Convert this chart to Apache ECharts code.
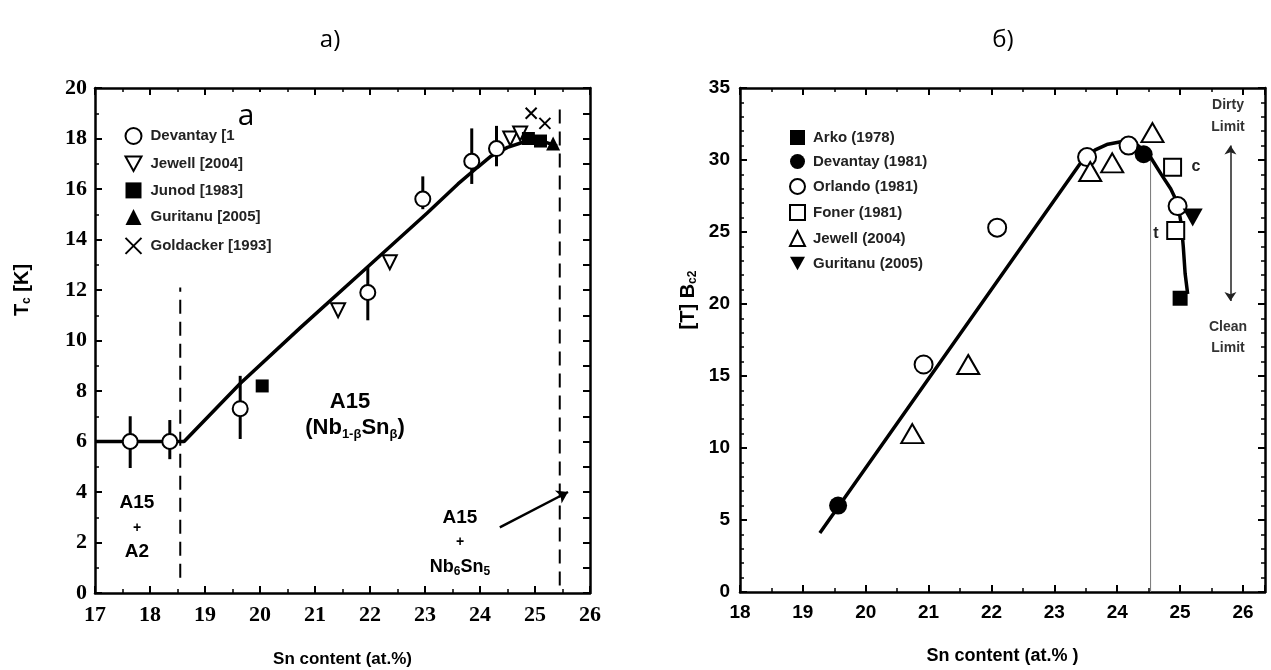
<!DOCTYPE html>
<html><head><meta charset="utf-8">
<script src="https://cdn.jsdelivr.net/npm/echarts@6/dist/echarts.min.js"></script>
<style>html,body{margin:0;padding:0;background:#fff}#c{width:1271px;height:670px}</style>
</head><body><div id="c"></div>
<script>
// ---------- Panel а) : Tc vs Sn content ----------
const a_devantay_x  = [17.64, 18.36, 19.64, 21.96, 22.96, 23.85, 24.30];
const a_devantay_y  = [6.0, 6.0, 7.3, 11.9, 15.6, 17.1, 17.6];
const a_devantay_lo = [4.95, 5.3, 6.1, 10.8, 15.2, 16.2, 16.9];
const a_devantay_hi = [7.0, 6.85, 8.6, 12.9, 16.5, 18.4, 18.5];
const a_jewell_x = [21.42, 22.36, 24.55, 24.73];
const a_jewell_y = [11.2, 13.1, 18.0, 18.2];
const a_junod_x = [20.04, 24.88, 25.10];
const a_junod_y = [8.2, 18.0, 17.9];
const a_guritanu_x = [25.33];
const a_guritanu_y = [17.8];
const a_goldacker_x = [24.93, 25.18];
const a_goldacker_y = [19.0, 18.6];
const a_fit_x = [17.0, 18.62, 19.64, 20.73, 21.9, 23.04, 23.6, 23.95, 24.2, 24.5, 24.78, 25.0, 25.2, 25.4];
const a_fit_y = [6.0, 6.0, 8.3, 10.5, 12.8, 15.05, 16.2, 16.85, 17.3, 17.65, 17.85, 17.9, 17.85, 17.7];
const a_dash1 = [[18.55, 0.6], [18.55, 12.1]];
const a_dash2 = [[25.45, 0.3], [25.45, 19.2]];
const a_arrow = [[24.36, 2.6], [25.6, 4.0]];

// ---------- Panel б) : Bc2 vs Sn content ----------
const b_arko_x = [25.0];
const b_arko_y = [20.4];
const b_devantay_x = [19.56, 24.42];
const b_devantay_y = [6.0, 30.4];
const b_orlando_x = [20.92, 22.09, 23.52, 24.18, 24.96];
const b_orlando_y = [15.8, 25.3, 30.2, 31.0, 26.8];
const b_foner_x = [24.88, 24.93];
const b_foner_y = [29.5, 25.1];
const b_jewell_x = [20.74, 21.63, 23.57, 23.92, 24.56];
const b_jewell_y = [11.0, 15.8, 29.2, 29.8, 31.9];
const b_guritanu_x = [25.2];
const b_guritanu_y = [26.0];
const b_fit_x = [19.27, 23.45, 23.65, 23.85, 24.1, 24.3, 24.5, 24.7, 24.85, 24.96, 25.02, 25.05, 25.08, 25.12];
const b_fit_y = [4.1, 30.0, 30.7, 31.1, 31.3, 31.1, 30.4, 29.0, 28.0, 27.0, 25.5, 24.0, 22.1, 20.7];
const b_vline = [[24.53, 0], [24.53, 30.2]];
const b_darrow = [[25.8, 31.0], [25.8, 20.2]];

const zip = (xs, ys) => xs.map((x, i) => [x, ys[i]]);
const SANS = 'Liberation Sans';
const SERIF = 'Liberation Serif';
const DOWN = 'path://M0,0L10,0L5,9Z';
const XSYM = 'path://M0,0L10,10M10,0L0,10';

function axisBase(extra) {
  return Object.assign({
    axisLine: {show: true, onZero: false, lineStyle: {color: '#000', width: 2.5}},
    axisTick: {show: true, inside: true, length: 7, lineStyle: {color: '#000', width: 2}},
    minorTick: {show: true, splitNumber: 2, length: 4, lineStyle: {color: '#000', width: 1.5}},
    splitLine: {show: false},
    minorSplitLine: {show: false}
  }, extra);
}

const chart = echarts.init(document.getElementById('c'));
const open = {color: '#fff', borderColor: '#000', borderWidth: 2, opacity: 1};
const filled = {color: '#000', borderColor: '#000', borderWidth: 0, opacity: 1};

const option = {
  animation: false,
  backgroundColor: '#fff',
  grid: [
    {left: 95, top: 88, width: 495, height: 505, outerBoundsMode: 'none', containLabel: false},
    {left: 740, top: 88, width: 525, height: 504, outerBoundsMode: 'none', containLabel: false}
  ],
  xAxis: [
    axisBase({gridIndex: 0, type: 'value', min: 17, max: 26, interval: 1, position: 'bottom',
      axisLabel: {color: '#000', fontFamily: SERIF, fontWeight: 'bold', fontSize: 22, margin: 11},
      name: 'Sn content (at.%)', nameLocation: 'middle', nameGap: 58,
      nameTextStyle: {color: '#000', fontFamily: SANS, fontWeight: 'bold', fontSize: 17}}),
    axisBase({gridIndex: 0, type: 'value', min: 17, max: 26, interval: 1, position: 'top',
      axisLabel: {show: false}}),
    axisBase({gridIndex: 1, type: 'value', min: 18, max: 26.35, interval: 1, position: 'bottom',
      axisLabel: {color: '#000', fontFamily: SANS, fontWeight: 'bold', fontSize: 19, margin: 11, showMaxLabel: false},
      name: 'Sn content (at.% )', nameLocation: 'middle', nameGap: 55,
      nameTextStyle: {color: '#000', fontFamily: SANS, fontWeight: 'bold', fontSize: 18}}),
    axisBase({gridIndex: 1, type: 'value', min: 18, max: 26.35, interval: 1, position: 'top',
      axisLabel: {show: false}})
  ],
  yAxis: [
    axisBase({gridIndex: 0, type: 'value', min: 0, max: 20, interval: 2, position: 'left',
      axisLabel: {color: '#000', fontFamily: SERIF, fontWeight: 'bold', fontSize: 22, margin: 8}}),
    axisBase({gridIndex: 0, type: 'value', min: 0, max: 20, interval: 1, position: 'right',
      axisLabel: {show: false}, minorTick: {show: false}}),
    axisBase({gridIndex: 1, type: 'value', min: 0, max: 35, interval: 5, position: 'left',
      axisLabel: {color: '#000', fontFamily: SANS, fontWeight: 'bold', fontSize: 19, margin: 10},
      minorTick: {show: true, splitNumber: 5, length: 4, lineStyle: {color: '#000', width: 1.5}}}),
    axisBase({gridIndex: 1, type: 'value', min: 0, max: 35, interval: 5, position: 'right',
      axisLabel: {show: false},
      minorTick: {show: true, splitNumber: 5, length: 4, lineStyle: {color: '#000', width: 1.5}}})
  ],
  legend: [
    {orient: 'vertical', left: 118, top: 122, itemWidth: 16, itemHeight: 16, itemGap: 10.5,
      textStyle: {color: '#222', fontFamily: SANS, fontWeight: 'bold', fontSize: 15, padding: [0, 0, 0, 4]},
      data: ['Devantay [1981]', 'Jewell [2004]', 'Junod [1983]', 'Guritanu [2005]', 'Goldacker [1993]']},
    {orient: 'vertical', left: 784, top: 125, itemWidth: 15, itemHeight: 15, itemGap: 9,
      textStyle: {color: '#222', fontFamily: SANS, fontWeight: 'bold', fontSize: 15, padding: [0, 0, 0, 3]},
      data: ['Arko (1978)', 'Devantay (1981)', 'Orlando (1981)', 'Foner (1981)', 'Jewell (2004)', 'Guritanu (2005)']}
  ],
  series: [
    // ----- panel а)
    {type: 'line', xAxisIndex: 0, yAxisIndex: 0, data: zip(a_fit_x, a_fit_y), smooth: false, showSymbol: false,
      lineStyle: {color: '#000', width: 3.5}, z: 2, silent: true},
    {type: 'line', xAxisIndex: 0, yAxisIndex: 0, data: a_dash1, showSymbol: false,
      lineStyle: {color: '#000', width: 2, type: [14, 8]}, z: 1, silent: true},
    {type: 'line', xAxisIndex: 0, yAxisIndex: 0, data: a_dash2, showSymbol: false,
      lineStyle: {color: '#000', width: 2, type: [14, 8]}, z: 1, silent: true,
      markLine: {silent: true, symbol: ['none', 'arrow'], symbolSize: 11, label: {show: false},
        lineStyle: {color: '#000', width: 2.5, type: 'solid'},
        data: [[{coord: a_arrow[0]}, {coord: a_arrow[1]}]]}},
    {type: 'custom', xAxisIndex: 0, yAxisIndex: 0, z: 3, silent: true,
      data: a_devantay_x.map((x, i) => [x, a_devantay_lo[i], a_devantay_hi[i]]),
      renderItem: (p, api) => {
        const a = api.coord([api.value(0), api.value(1)]);
        const b = api.coord([api.value(0), api.value(2)]);
        return {type: 'line', shape: {x1: a[0], y1: a[1], x2: b[0], y2: b[1]}, style: {stroke: '#000', lineWidth: 3}};
      }},
    {name: 'Devantay [1981]', type: 'scatter', xAxisIndex: 0, yAxisIndex: 0, symbol: 'circle', symbolSize: 15,
      itemStyle: open, data: zip(a_devantay_x, a_devantay_y), z: 4},
    {name: 'Jewell [2004]', type: 'scatter', xAxisIndex: 0, yAxisIndex: 0, symbol: DOWN, symbolSize: [14, 14],
      itemStyle: open, data: zip(a_jewell_x, a_jewell_y), z: 4},
    {name: 'Junod [1983]', type: 'scatter', xAxisIndex: 0, yAxisIndex: 0, symbol: 'rect', symbolSize: 13,
      itemStyle: filled, data: zip(a_junod_x, a_junod_y), z: 4},
    {name: 'Guritanu [2005]', type: 'scatter', xAxisIndex: 0, yAxisIndex: 0, symbol: 'triangle', symbolSize: 14,
      itemStyle: filled, data: zip(a_guritanu_x, a_guritanu_y), z: 4},
    {name: 'Goldacker [1993]', type: 'scatter', xAxisIndex: 0, yAxisIndex: 0, symbol: XSYM, symbolSize: 11,
      itemStyle: {color: 'none', borderColor: '#000', borderWidth: 2, opacity: 1}, data: zip(a_goldacker_x, a_goldacker_y), z: 4},
    // ----- panel б)
    {type: 'line', xAxisIndex: 2, yAxisIndex: 2, data: b_vline, showSymbol: false,
      lineStyle: {color: '#777', width: 1}, z: 1, silent: true},
    {type: 'line', xAxisIndex: 2, yAxisIndex: 2, data: zip(b_fit_x, b_fit_y), smooth: false, showSymbol: false,
      lineStyle: {color: '#000', width: 3.5}, z: 2, silent: true,
      markLine: {silent: true, symbol: ['arrow', 'arrow'], symbolSize: 9, label: {show: false},
        lineStyle: {color: '#222', width: 1.5, type: 'solid'},
        data: [[{coord: b_darrow[0]}, {coord: b_darrow[1]}]]}},
    {name: 'Arko (1978)', type: 'scatter', xAxisIndex: 2, yAxisIndex: 2, symbol: 'rect', symbolSize: 15,
      itemStyle: filled, data: zip(b_arko_x, b_arko_y), z: 4},
    {name: 'Devantay (1981)', type: 'scatter', xAxisIndex: 2, yAxisIndex: 2, symbol: 'circle', symbolSize: 18,
      itemStyle: filled, data: zip(b_devantay_x, b_devantay_y), z: 5},
    {name: 'Orlando (1981)', type: 'scatter', xAxisIndex: 2, yAxisIndex: 2, symbol: 'circle', symbolSize: 18,
      itemStyle: open, data: zip(b_orlando_x, b_orlando_y), z: 4},
    {name: 'Foner (1981)', type: 'scatter', xAxisIndex: 2, yAxisIndex: 2, symbol: 'rect', symbolSize: 17,
      itemStyle: open, data: zip(b_foner_x, b_foner_y), z: 4},
    {name: 'Jewell (2004)', type: 'scatter', xAxisIndex: 2, yAxisIndex: 2, symbol: 'triangle', symbolSize: [22, 19],
      itemStyle: open, data: zip(b_jewell_x, b_jewell_y), z: 4},
    {name: 'Guritanu (2005)', type: 'scatter', xAxisIndex: 2, yAxisIndex: 2, symbol: DOWN, symbolSize: [20, 18],
      itemStyle: filled, data: zip(b_guritanu_x, b_guritanu_y), z: 4}
  ],
  graphic: [
    {type: 'text', style: {text: 'а)', x: 330, y: 40, align: 'center', verticalAlign: 'middle', font: '24px "Open Sans"', fill: '#000'}},
    {type: 'text', style: {text: 'б)', x: 1003, y: 40, align: 'center', verticalAlign: 'middle', font: '24px "Open Sans"', fill: '#000'}},
    // y-axis titles
    {type: 'text', x: 22, y: 290, rotation: Math.PI / 2, z: 10,
      style: {text: '{m|T}{s|c}{m| [K]}', align: 'center', verticalAlign: 'middle',
        rich: {m: {fontFamily: SANS, fontWeight: 'bold', fontSize: 20, fill: '#000'},
               s: {fontFamily: SANS, fontWeight: 'bold', fontSize: 12, fill: '#000', padding: [10, 0, 0, 0]}}}},
    {type: 'text', x: 688, y: 300, rotation: Math.PI / 2, z: 10,
      style: {text: '{m|[T] B}{s|c2}', align: 'center', verticalAlign: 'middle',
        rich: {m: {fontFamily: SANS, fontWeight: 'bold', fontSize: 20, fill: '#000'},
               s: {fontFamily: SANS, fontWeight: 'bold', fontSize: 12, fill: '#000', padding: [10, 0, 0, 0]}}}},
    // panel а) annotations
    {type: 'text', style: {text: 'A15', x: 350, y: 402, align: 'center', verticalAlign: 'middle', font: 'bold 22px "Liberation Sans"', fill: '#000'}},
    {type: 'text', style: {text: '{m|(Nb}{s|1-β}{m|Sn}{s|β}{m|)}', x: 355, y: 428, align: 'center', verticalAlign: 'middle',
      rich: {m: {fontFamily: SANS, fontWeight: 'bold', fontSize: 22, fill: '#000'},
             s: {fontFamily: SANS, fontWeight: 'bold', fontSize: 13, fill: '#000', padding: [12, 0, 0, 0]}}}},
    {type: 'text', style: {text: 'A15', x: 137, y: 503, align: 'center', verticalAlign: 'middle', font: 'bold 19px "Liberation Sans"', fill: '#000'}},
    {type: 'text', style: {text: '+', x: 137, y: 528, align: 'center', verticalAlign: 'middle', font: 'bold 14px "Liberation Sans"', fill: '#000'}},
    {type: 'text', style: {text: 'A2', x: 137, y: 552, align: 'center', verticalAlign: 'middle', font: 'bold 19px "Liberation Sans"', fill: '#000'}},
    {type: 'text', style: {text: 'A15', x: 460, y: 518, align: 'center', verticalAlign: 'middle', font: 'bold 19px "Liberation Sans"', fill: '#000'}},
    {type: 'text', style: {text: '+', x: 460, y: 542, align: 'center', verticalAlign: 'middle', font: 'bold 14px "Liberation Sans"', fill: '#000'}},
    {type: 'text', style: {text: '{m|Nb}{s|6}{m|Sn}{s|5}', x: 460, y: 567, align: 'center', verticalAlign: 'middle',
      rich: {m: {fontFamily: SANS, fontWeight: 'bold', fontSize: 18, fill: '#000'},
             s: {fontFamily: SANS, fontWeight: 'bold', fontSize: 12, fill: '#000', padding: [9, 0, 0, 0]}}}},
    // white patch with "a" over the legend
    {type: 'rect', z: 100, shape: {x: 235, y: 92, width: 34, height: 55}, style: {fill: '#fff'}},
    {type: 'text', z: 101, style: {text: 'a', x: 246, y: 116, align: 'center', verticalAlign: 'middle', font: '30px "Open Sans"', fill: '#000'}},
    // panel б) annotations
    {type: 'text', style: {text: 'Dirty', x: 1228, y: 105, align: 'center', verticalAlign: 'middle', font: 'bold 14px "Liberation Sans"', fill: '#333'}},
    {type: 'text', style: {text: 'Limit', x: 1228, y: 127, align: 'center', verticalAlign: 'middle', font: 'bold 14px "Liberation Sans"', fill: '#333'}},
    {type: 'text', style: {text: 'Clean', x: 1228, y: 327, align: 'center', verticalAlign: 'middle', font: 'bold 14px "Liberation Sans"', fill: '#333'}},
    {type: 'text', style: {text: 'Limit', x: 1228, y: 348, align: 'center', verticalAlign: 'middle', font: 'bold 14px "Liberation Sans"', fill: '#333'}},
    {type: 'text', style: {text: 'c', x: 1196, y: 167, align: 'center', verticalAlign: 'middle', font: 'bold 16px "Liberation Sans"', fill: '#222'}},
    {type: 'text', style: {text: 't', x: 1156, y: 234, align: 'center', verticalAlign: 'middle', font: 'bold 16px "Liberation Sans"', fill: '#222'}}
  ]
};
chart.setOption(option);
</script>
</body></html>
